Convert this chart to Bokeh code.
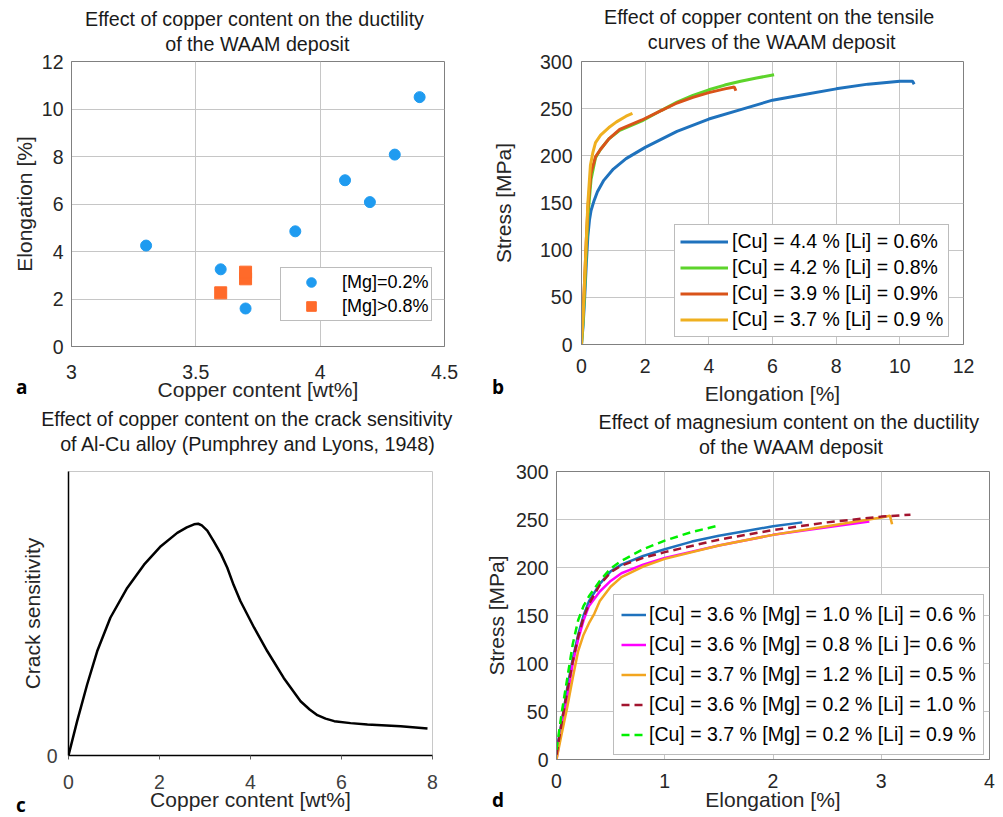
from bokeh.plotting import figure
from bokeh.layouts import column, row
from bokeh.models import Range1d, FixedTicker, Div
from bokeh.embed import file_html
from bokeh.resources import INLINE

FONT = "Liberation Sans"

# ---------------- Panel a data ----------------
a_cu_low_mg = [3.3, 3.6, 3.7, 3.9, 4.1, 4.2, 4.3, 4.4]
a_el_low_mg = [4.25, 3.25, 1.6, 4.85, 7.0, 6.08, 8.08, 10.5]
a_cu_high_mg = [3.6, 3.7, 3.7]
a_el_high_mg = [2.26, 2.85, 3.13]
a_xticks = [3, 3.5, 4, 4.5]
a_xtick_labels = ["3", "3.5", "4", "4.5"]
a_yticks = [0, 2, 4, 6, 8, 10, 12]

# ---------------- Panel b data ----------------
b_x_cu44 = [0, 0.05, 0.1, 0.15, 0.2, 0.25, 0.3, 0.4, 0.5, 0.7, 1.0, 1.4, 2.0, 3.0, 4.0, 5.0, 6.0, 7.0, 8.0, 9.0, 10.0, 10.4, 10.45]
b_y_cu44 = [0, 20, 50, 85, 115, 132, 142, 153, 162, 174, 186, 197, 209, 226, 239, 249, 259, 265, 271, 276, 279, 279, 276]
b_x_cu42 = [0, 0.05, 0.1, 0.15, 0.2, 0.3, 0.44, 0.6, 0.86, 1.2, 1.9, 2.5, 3.0, 3.5, 4.0, 4.5, 5.0, 5.5, 6.05]
b_y_cu42 = [0, 25, 60, 100, 135, 175, 198, 207, 218, 227, 237, 248, 257, 264, 270, 275, 279, 282.5, 286]
b_x_cu39 = [0, 0.05, 0.1, 0.15, 0.2, 0.3, 0.44, 0.6, 0.86, 1.2, 1.9, 2.5, 3.0, 3.5, 4.0, 4.5, 4.8, 4.85]
b_y_cu39 = [10, 35, 70, 110, 145, 182, 199, 207, 218, 228, 238, 248, 256, 262, 267, 271, 273, 269]
b_x_cu37 = [0, 0.05, 0.1, 0.15, 0.2, 0.28, 0.36, 0.44, 0.6, 0.86, 1.1, 1.4, 1.6]
b_y_cu37 = [0, 30, 70, 110, 150, 190, 204, 214, 222, 230, 236, 242, 245]
b_labels = ["[Cu] = 4.4 % [Li] = 0.6%", "[Cu] = 4.2 % [Li] = 0.8%",
            "[Cu] = 3.9 % [Li] = 0.9%", "[Cu] = 3.7 % [Li] = 0.9 %"]

# ---------------- Panel c data ----------------
c_cu = [0, 0.19, 0.41, 0.63, 0.92, 1.29, 1.66, 2.03, 2.39, 2.6, 2.76, 2.85, 2.93, 3.05, 3.19, 3.35,
        3.49, 3.63, 3.78, 4.08, 4.37, 4.73, 5.1, 5.3, 5.47, 5.65, 5.84, 6.2, 6.57, 7.3, 7.89]
c_sens = [0, 0.121, 0.25, 0.367, 0.485, 0.59, 0.672, 0.737, 0.784, 0.803, 0.814, 0.816, 0.81, 0.792, 0.755, 0.71,
          0.661, 0.6, 0.543, 0.45, 0.367, 0.273, 0.191, 0.162, 0.142, 0.13, 0.121, 0.114, 0.109, 0.103, 0.095]
c_xticks = [0, 2, 4, 6, 8]

# ---------------- Panel d data ----------------
d_x_1 = [0, 0.05, 0.1, 0.15, 0.2, 0.25, 0.3, 0.4, 0.5, 0.6, 0.8, 1.0, 1.25, 1.5, 1.75, 2.0, 2.27]
d_y_1 = [10, 40, 75, 105, 130, 150, 165, 183, 196, 203, 212, 219, 227, 233, 238, 243, 247]
d_x_2 = [0, 0.05, 0.1, 0.15, 0.2, 0.25, 0.3, 0.4, 0.5, 0.6, 0.8, 1.0, 1.5, 2.0, 2.5, 2.89]
d_y_2 = [0, 35, 65, 100, 125, 145, 160, 175, 186, 194, 203, 210, 223, 234, 242, 248]
d_x_3 = [0, 0.05, 0.1, 0.15, 0.2, 0.25, 0.3, 0.35, 0.4, 0.5, 0.6, 0.8, 1.0, 1.5, 2.0, 2.5, 3.0, 3.08, 3.1]
d_y_3 = [0, 28, 55, 85, 113, 130, 142, 152, 165, 180, 190, 201, 209, 223, 234, 243, 252, 254, 245]
d_x_4 = [0, 0.05, 0.1, 0.15, 0.2, 0.25, 0.3, 0.4, 0.5, 0.6, 0.8, 1.0, 1.5, 2.0, 2.5, 3.0, 3.27]
d_y_4 = [5, 40, 72, 102, 128, 148, 162, 182, 195, 202, 210, 216, 229, 239, 247, 253, 255]
d_x_5 = [0, 0.05, 0.1, 0.15, 0.2, 0.25, 0.3, 0.4, 0.5, 0.6, 0.8, 1.0, 1.25, 1.51]
d_y_5 = [10, 50, 85, 120, 145, 160, 170, 186, 199, 207, 219, 228, 237, 244]
d_labels = ["[Cu] = 3.6 % [Mg] = 1.0 % [Li] = 0.6 %",
            "[Cu] = 3.6 % [Mg] = 0.8 % [Li ]= 0.6 %",
            "[Cu] = 3.7 % [Mg] = 1.2 % [Li] = 0.5 %",
            "[Cu] = 3.6 % [Mg] = 0.2 % [Li] = 1.0 %",
            "[Cu] = 3.7 % [Mg] = 0.2 % [Li] = 0.9 %"]

panel_titles = [
    ["Effect of copper content on the ductility", "of the WAAM deposit"],
    ["Effect of copper content on the tensile", "curves of the WAAM deposit"],
    ["Effect of copper content on the crack sensitivity", "of Al-Cu alloy (Pumphrey and Lyons, 1948)"],
    ["Effect of magnesium content on the ductility", "of the WAAM deposit"],
]
panel_letters = ["a", "b", "c", "d"]

TICK = "#262626"
GRID = "#c6c6c6"
FRAME = "#808080"
ROW_H = 408


def base(fw, fh, l, r, t, b, xr, yr):
    p = figure(frame_width=fw, frame_height=fh, min_border_left=l, min_border_right=r,
               min_border_top=t, min_border_bottom=b, x_range=Range1d(*xr), y_range=Range1d(*yr),
               output_backend="svg", toolbar_location=None, title_location=None)
    p.outline_line_color = FRAME
    p.outline_line_width = 1
    p.background_fill_color = "white"
    p.border_fill_color = None
    return p


def matlab_axes(p, xticks, yticks, xlab, ylab, xstand, ystand, xls, yls):
    for ax, ticks, lab, st, ls in ((p.xaxis[0], xticks, xlab, xstand, xls), (p.yaxis[0], yticks, ylab, ystand, yls)):
        ax.ticker = FixedTicker(ticks=ticks)
        ax.axis_label = lab
        ax.axis_label_text_font = FONT
        ax.axis_label_text_font_style = "normal"
        ax.axis_label_text_font_size = "21px"
        ax.axis_label_text_color = TICK
        ax.axis_label_standoff = ls
        ax.major_label_text_font = FONT
        ax.major_label_text_font_size = "19.5px"
        ax.major_label_text_color = TICK
        ax.major_label_standoff = st
        ax.major_tick_in = 0
        ax.major_tick_out = 0
        ax.minor_tick_line_color = None
        ax.axis_line_color = FRAME
    p.xgrid.ticker = FixedTicker(ticks=xticks)
    p.ygrid.ticker = FixedTicker(ticks=yticks)
    p.xgrid.grid_line_color = GRID
    p.ygrid.grid_line_color = GRID


def style_legend(lg, loc, gw, gh, sp, fs, pad, ls):
    lg.location = loc
    lg.glyph_width = gw
    lg.glyph_height = gh
    lg.label_height = gh
    lg.spacing = sp
    lg.label_standoff = ls
    lg.label_text_font = FONT
    lg.label_text_font_size = fs
    lg.label_text_color = "black"
    lg.padding = pad
    lg.margin = 0
    lg.border_line_color = "#7a7a7a"
    lg.border_line_width = 1
    lg.background_fill_alpha = 1


def overlay(titles, title_pos, letters, letter_pos, height):
    # titles: centred lines (centre x, top y); letters: (left x, top y)
    parts = []
    for lines, pos in zip(titles, title_pos):
        for txt, (cx, top) in zip(lines, pos):
            parts.append(
                '<div style="position:absolute;left:%.1fpx;top:%.1fpx;width:500px;text-align:center;'
                'white-space:nowrap;font-family:\'Liberation Sans\';font-size:19.7px;line-height:19.7px;'
                'color:#1a1a1a;">%s</div>' % (cx - 250, top, txt))
    for t, (x, top) in zip(letters, letter_pos):
        parts.append(
            '<span style="position:absolute;left:%dpx;top:%dpx;font-family:\'Open Sans\';'
            'font-weight:bold;font-size:19px;line-height:19px;color:black;">%s</span>' % (x, top, t))
    html = '<div style="position:relative;width:1003px;height:%dpx;">%s</div>' % (height, "".join(parts))
    return Div(text=html, width=1003, height=height, margin=(0, 0, 0, 0))


# ---------------- Panel a ----------------
pa = base(373, 285, 71, 36, 59, 64, (3, 4.5), (0, 12))
matlab_axes(pa, a_xticks, a_yticks, "Copper content [wt%]", "Elongation [%]", 18, 8, -4, 3)
pa.xaxis[0].major_label_overrides = dict(zip(a_xticks, a_xtick_labels))
pa.scatter(a_cu_low_mg, a_el_low_mg, marker="circle", size=11, color="#1f9bf0", legend_label="[Mg]=0.2%")
pa.scatter(a_cu_high_mg, a_el_high_mg, marker="square", size=12, color="#ff6a2a", legend_label="[Mg]>0.8%")
style_legend(pa.legend[0], (209, 25), 56, 24, 0, "18px", 2, 3)

# ---------------- Panel b ----------------
pb = base(382, 283, 101, 40, 61, 64, (0, 12), (0, 300))
matlab_axes(pb, [0, 2, 4, 6, 8, 10, 12], [0, 50, 100, 150, 200, 250, 300],
            "Elongation [%]", "Stress [MPa]", 14, 9, 6, 22)
b_colors = ["#1f72bd", "#5dd42b", "#d95319", "#efb020"]
for xs, ys, c, lab in zip([b_x_cu44, b_x_cu42, b_x_cu39, b_x_cu37],
                          [b_y_cu44, b_y_cu42, b_y_cu39, b_y_cu37], b_colors, b_labels):
    pb.line(xs, ys, line_color=c, line_width=3, legend_label=lab)
style_legend(pb.legend[0], (93, 7), 48, 23, 3, "19.5px", 5, 4)

# ---------------- Panel c ----------------
pc = base(364, 284, 68, 48, 59, 64, (0, 8), (0, 1))
pc.outline_line_color = "#c8c8c8"
for ax, ticks, lab in ((pc.xaxis[0], c_xticks, "Copper content [wt%]"), (pc.yaxis[0], [0], "Crack sensitivity")):
    ax.ticker = FixedTicker(ticks=ticks)
    ax.axis_label = lab
    ax.axis_label_text_font = FONT
    ax.axis_label_text_font_style = "normal"
    ax.axis_label_text_font_size = "21px"
    ax.axis_label_text_color = TICK
    ax.major_label_text_font = FONT
    ax.major_label_text_font_size = "19.5px"
    ax.major_label_text_color = "#404040"
    ax.minor_tick_line_color = None
    ax.axis_line_color = "black"
    ax.axis_line_width = 1.5
pc.xaxis[0].major_tick_in = 0
pc.xaxis[0].major_tick_out = 4
pc.xaxis[0].major_tick_line_color = "#606060"
pc.xaxis[0].major_label_standoff = 15
pc.xaxis[0].axis_label_standoff = -4
pc.yaxis[0].major_tick_in = 0
pc.yaxis[0].major_tick_out = 0
pc.yaxis[0].major_label_standoff = 11
pc.yaxis[0].axis_label_standoff = 0
pc.xgrid.grid_line_color = None
pc.ygrid.grid_line_color = None
pc.line(c_cu, c_sens, line_color="black", line_width=2.5, line_join="round")

# ---------------- Panel d ----------------
pd_ = base(433, 288, 76, 14, 63, 56, (0, 4), (0, 300))
matlab_axes(pd_, [0, 1, 2, 3, 4], [0, 50, 100, 150, 200, 250, 300],
            "Elongation [%]", "Stress [MPa]", 14, 8, -3, 5)
d_series = [(d_x_1, d_y_1, "#1f72bd", "solid"), (d_x_2, d_y_2, "#ff00ff", "solid"),
            (d_x_3, d_y_3, "#f2a51f", "solid"), (d_x_4, d_y_4, "#a2142f", "8 5"),
            (d_x_5, d_y_5, "#00f000", "8 5")]
for (xs, ys, c, dash), lab in zip(d_series, d_labels):
    pd_.line(xs, ys, line_color=c, line_width=2.5, line_dash=dash, legend_label=lab)
style_legend(pd_.legend[0], (57, 4), 25, 25, 5, "19.5px", 7, 3)

# title / panel-letter overlays (drawn underneath the transparent figure borders)
ov_top = overlay(panel_titles[:2], [[(254.5, 10), (257.3, 35)], [(769.2, 8.3), (771.7, 33.3)]],
                 panel_letters[:2], [(16, 378), (492, 378)], ROW_H)
ov_bottom = overlay(panel_titles[2:], [[(246.7, 2), (247.5, 27)], [(788.8, 5.3), (791, 30.3)]],
                    panel_letters[2:], [(16, 388), (492, 383)], ROW_H)

row_top = row(pa, pb, margin=(-ROW_H, 0, 0, 0))
row_bottom = row(pc, pd_, margin=(-ROW_H, 0, 0, 0))
layout = column(ov_top, row_top, ov_bottom, row_bottom)
open("out.html", "w").write(file_html(layout, INLINE))
